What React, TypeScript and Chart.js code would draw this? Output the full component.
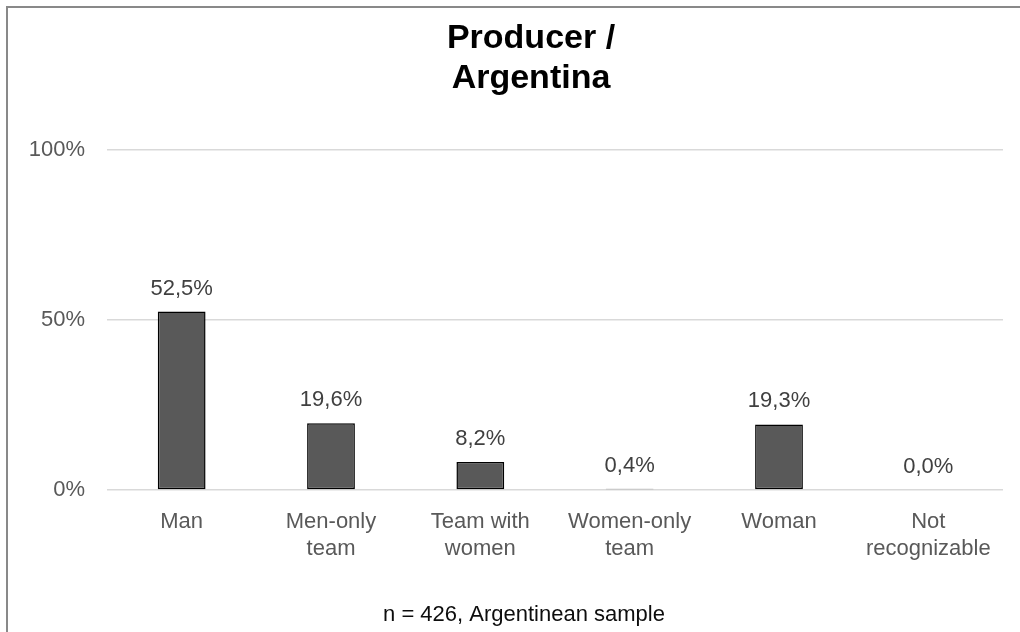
import React, { useEffect, useRef } from 'react';
import { Chart, registerables } from 'chart.js';

Chart.register(...registerables);

const categories: string[][] = [
  ['Man'],
  ['Men-only', 'team'],
  ['Team with', 'women'],
  ['Women-only', 'team'],
  ['Woman'],
  ['Not', 'recognizable'],
];
const values: number[] = [52.5, 19.6, 8.2, 0.4, 19.3, 0.0];
const yTickValues: number[] = [0, 50, 100];
const titleLines: string[] = ['Producer /', 'Argentina'];
const footerText = 'n = 426, Argentinean sample';

const FONT = '"Liberation Sans", Arial, sans-serif';

const fmt = (v: number) => v.toFixed(1).replace('.', ',') + '%';

const textPlugin = {
  id: 'textPlugin',
  afterDatasetsDraw(chart: any) {
    const ctx = chart.ctx;
    const meta = chart.getDatasetMeta(0);
    ctx.save();
    ctx.font = `22px ${FONT}`;
    ctx.fillStyle = '#404040';
    ctx.textAlign = 'center';
    ctx.textBaseline = 'alphabetic';
    meta.data.forEach((bar: any, i: number) => {
      ctx.fillText(fmt(values[i]), bar.x, bar.y - 17);
    });
    ctx.restore();
  },
  afterDraw(chart: any) {
    const ctx = chart.ctx;
    ctx.save();
    ctx.textAlign = 'center';
    ctx.textBaseline = 'middle';
    ctx.fillStyle = '#000000';
    ctx.font = `bold 34px ${FONT}`;
    titleLines.forEach((line, i) => {
      ctx.fillText(line, 531, 39 + i * 40);
    });
    ctx.font = `22px ${FONT}`;
    ctx.fillStyle = '#0d0d0d';
    ctx.textBaseline = 'alphabetic';
    ctx.fillText(footerText, 524, 621);
    ctx.restore();
  },
};

export default function App() {
  const canvasRef = useRef<HTMLCanvasElement | null>(null);

  useEffect(() => {
    if (!canvasRef.current) return;
    const chart = new Chart(canvasRef.current, {
      type: 'bar',
      data: {
        labels: categories,
        datasets: [
          {
            data: values,
            backgroundColor: '#595959',
            borderColor: '#000000',
            borderWidth: 1.5,
            borderSkipped: false,
            barPercentage: 0.32,
            categoryPercentage: 1,
          },
        ],
      },
      options: {
        animation: false,
        responsive: false,
        maintainAspectRatio: false,
        layout: { padding: { top: 150, bottom: 72, left: 0, right: 17 } },
        plugins: {
          legend: { display: false },
          tooltip: { enabled: false },
          title: { display: false },
        },
        scales: {
          x: {
            grid: { display: false, drawTicks: false },
            border: { display: false },
            ticks: {
              color: '#595959',
              font: { family: FONT, size: 22, lineHeight: 1.22 },
              padding: 19,
              maxRotation: 0,
              autoSkip: false,
            },
            afterFit(scale: any) {
              scale.height = 70;
            },
          },
          y: {
            min: 0,
            max: 100,
            afterBuildTicks(scale: any) {
              scale.ticks = yTickValues.map((v) => ({ value: v }));
            },
            grid: { color: '#d9d9d9', lineWidth: 1.5, drawTicks: false },
            border: { display: false },
            ticks: {
              color: '#595959',
              font: { family: FONT, size: 22 },
              padding: 22,
              callback: (v: any) => v + '%',
            },
            afterFit(scale: any) {
              scale.width = 107;
            },
          },
        },
      },
      plugins: [textPlugin],
    });
    return () => chart.destroy();
  }, []);

  return (
    <div
      style={{
        position: 'absolute',
        left: 0,
        top: 0,
        width: 1020,
        height: 632,
        overflow: 'hidden',
        background: '#ffffff',
      }}
    >
      <canvas
        ref={canvasRef}
        width={1020}
        height={632}
        style={{ position: 'absolute', left: 0, top: 0, width: 1020, height: 632 }}
      />
      <div
        style={{
          position: 'absolute',
          left: 6,
          top: 6,
          width: 1100,
          height: 700,
          border: '2px solid #898989',
          pointerEvents: 'none',
        }}
      />
    </div>
  );
}
